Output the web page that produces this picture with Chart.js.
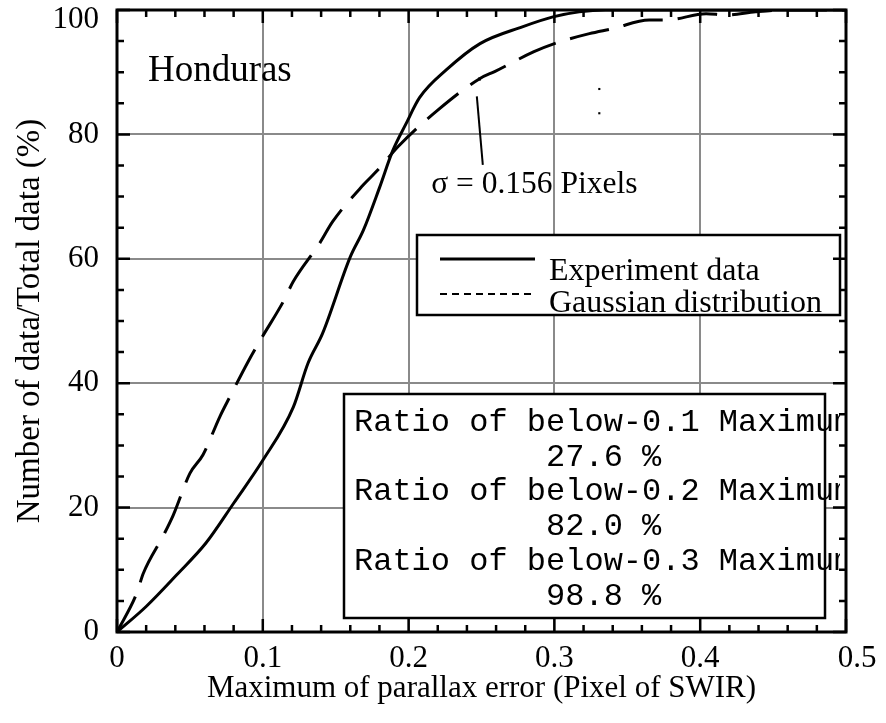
<!DOCTYPE html>
<html>
<head>
<meta charset="utf-8">
<script src="https://cdn.jsdelivr.net/npm/chart.js@4.4.0/dist/chart.umd.min.js"></script>
<style>
  html, body { margin: 0; padding: 0; background: #fff; }
  #wrap { width: 886px; height: 723px; }
</style>
</head>
<body>
<div id="wrap"><canvas id="chart" width="886" height="723"></canvas></div>
<script>
// Experiment data (solid line) - cumulative ratio vs max parallax error
const expX = [0, 0.020, 0.041, 0.061, 0.080, 0.100, 0.121, 0.131, 0.141, 0.160, 0.169, 0.180, 0.189, 0.198, 0.2075, 0.226, 0.249, 0.278, 0.299, 0.317, 0.335, 0.36, 0.40, 0.45, 0.5];
const expY = [0, 4.1, 9.2, 14.3, 20.7, 27.6, 36.2, 43.2, 48.0, 60.3, 64.6, 71.4, 77.3, 81.6, 85.9, 90.4, 94.6, 97.3, 98.9, 99.7, 100, 100, 100, 100, 100];

// Gaussian distribution (dashed line)
const gaussX = [0, 0.0135, 0.018, 0.032, 0.0386, 0.050, 0.059, 0.0705, 0.0774, 0.090, 0.099, 0.114, 0.1208, 0.139, 0.148, 0.169, 0.179, 0.193, 0.220, 0.249, 0.259, 0.286, 0.300, 0.324, 0.340, 0.365, 0.377, 0.404, 0.418, 0.438, 0.46, 0.5];
const gaussY = [0, 6.2, 9.4, 15.6, 18.8, 25.5, 28.5, 34.6, 37.8, 43.5, 47.2, 53.1, 56.3, 62.5, 66.0, 71.9, 74.3, 78.1, 83.9, 89.0, 90.1, 93.3, 94.6, 96.2, 97.0, 98.4, 98.4, 99.4, 99.2, 99.7, 100, 100];

// small stray marks in the plot
const strayX = [0.3308, 0.3308];
const strayY = [87.3, 83.4];

// axis ticks
const xTicks = [0, 0.1, 0.2, 0.3, 0.4, 0.5];
const xTickLabels = ['0', '0.1', '0.2', '0.3', '0.4', '0.5'];
const yTicks = [0, 20, 40, 60, 80, 100];
const yTickLabels = ['0', '20', '40', '60', '80', '100'];

// text in the plot
const sigmaLabel = 'σ = 0.156 Pixels';
const regionLabel = 'Honduras';
const seriesNames = ['Experiment data', 'Gaussian distribution'];
const statsLabels = ['Ratio of below-0.1 Maximum error', 'Ratio of below-0.2 Maximum error', 'Ratio of below-0.3 Maximum error'];
const statsValues = ['27.6 %', '82.0 %', '98.8 %'];

const SERIF = "'Liberation Serif', 'Times New Roman', serif";
const MONO = "'Liberation Mono', 'Courier New', monospace";

function toPoints(xs, ys) {
    return xs.map((x, i) => ({ x: x, y: ys[i] }));
}

/**
 * Draws tick labels, frame, inward ticks, legend box, stats box and annotations
 */
const framePlugin = {
    id: 'frame',
    afterDraw(chart) {
        const ctx = chart.ctx;
        const area = chart.chartArea;
        const xs = chart.scales.x;
        const ys = chart.scales.y;
        ctx.save();

        // tick labels (edge labels nudged inside canvas like the original)
        ctx.fillStyle = '#000';
        ctx.font = '31px ' + SERIF;
        ctx.textBaseline = 'middle';
        ctx.textAlign = 'right';
        yTicks.forEach((v, i) => {
            const py = Math.max(ys.getPixelForValue(v), area.top + 10);
            ctx.fillText(yTickLabels[i], area.left - 18, py);
        });
        ctx.textAlign = 'center';
        xTicks.forEach((v, i) => {
            let px = xs.getPixelForValue(v);
            if (i === xTicks.length - 1) px += 11;
            ctx.fillText(xTickLabels[i], px, area.bottom + 27);
        });

        // Honduras label
        ctx.font = '37px ' + SERIF;
        ctx.textBaseline = 'alphabetic';
        ctx.textAlign = 'left';
        ctx.fillText(regionLabel, xs.getPixelForValue(0.0212), ys.getPixelForValue(88.6));

        // sigma annotation
        ctx.font = '31.5px ' + SERIF;
        ctx.fillText(sigmaLabel, xs.getPixelForValue(0.2155), ys.getPixelForValue(70.5));
        ctx.strokeStyle = '#000';
        ctx.lineWidth = 2;
        ctx.beginPath();
        ctx.moveTo(xs.getPixelForValue(0.2468), ys.getPixelForValue(86.1));
        ctx.lineTo(xs.getPixelForValue(0.2509), ys.getPixelForValue(75.1));
        ctx.stroke();
        ctx.fillRect(xs.getPixelForValue(0.2486) - 1.5, ys.getPixelForValue(88.9) - 1.5, 3, 3);

        // legend box
        ctx.fillStyle = '#fff';
        ctx.fillRect(417, 235, 423, 80);
        ctx.lineWidth = 2.5;
        ctx.strokeRect(417, 235, 423, 80);
        ctx.lineWidth = 3;
        ctx.beginPath();
        ctx.moveTo(440, 259);
        ctx.lineTo(535, 259);
        ctx.stroke();
        ctx.lineWidth = 2;
        ctx.setLineDash([7, 5]);
        ctx.beginPath();
        ctx.moveTo(440, 294);
        ctx.lineTo(533, 294);
        ctx.stroke();
        ctx.setLineDash([]);
        ctx.fillStyle = '#000';
        ctx.font = '32px ' + SERIF;
        ctx.fillText(seriesNames[0], 549, 280);
        ctx.fillText(seriesNames[1], 549, 312);

        // stats box
        ctx.fillStyle = '#fff';
        ctx.fillRect(344, 394, 481, 224);
        ctx.lineWidth = 2.5;
        ctx.strokeRect(344, 394, 481, 224);
        ctx.save();
        ctx.beginPath();
        ctx.rect(344, 394, 496, 224);
        ctx.clip();
        ctx.fillStyle = '#000';
        ctx.font = '32px ' + MONO;
        ctx.textBaseline = 'middle';
        const centerW = ctx.measureText('Ratio of below-0.1 Maximum').width;
        const rowY = [423, 492, 562];
        for (let i = 0; i < statsLabels.length; i++) {
            ctx.textAlign = 'left';
            ctx.fillText(statsLabels[i], 354, rowY[i]);
            ctx.textAlign = 'center';
            ctx.fillText(statsValues[i], 354 + centerW / 2, rowY[i] + 35);
        }
        ctx.restore();

        // frame
        ctx.strokeStyle = '#000';
        ctx.lineWidth = 3;
        ctx.strokeRect(area.left, area.top, area.right - area.left, area.bottom - area.top);

        // inward ticks on all four sides
        ctx.lineWidth = 2.5;
        ctx.beginPath();
        for (let v = 0; v <= 0.5001; v += 0.02) {
            const px = xs.getPixelForValue(v);
            const major = Math.abs(v * 10 - Math.round(v * 10)) < 1e-6;
            const len = major ? 13 : 7;
            ctx.moveTo(px, area.bottom);
            ctx.lineTo(px, area.bottom - len);
            ctx.moveTo(px, area.top);
            ctx.lineTo(px, area.top + len);
        }
        for (let v = 0; v <= 100; v += 5) {
            const py = ys.getPixelForValue(v);
            const len = v % 20 === 0 ? 13 : 7;
            ctx.moveTo(area.left, py);
            ctx.lineTo(area.left + len, py);
            ctx.moveTo(area.right, py);
            ctx.lineTo(area.right - len, py);
        }
        ctx.stroke();
        ctx.restore();
    }
};

document.addEventListener('DOMContentLoaded', function() {
    const ctx = document.getElementById('chart');

    new Chart(ctx, {
        type: 'scatter',
        data: {
            datasets: [
                {
                    label: seriesNames[0],
                    data: toPoints(expX, expY),
                    showLine: true,
                    borderColor: '#000',
                    borderWidth: 3,
                    pointRadius: 0,
                    cubicInterpolationMode: 'monotone'
                },
                {
                    label: seriesNames[1],
                    data: toPoints(gaussX, gaussY),
                    showLine: true,
                    borderColor: '#000',
                    borderWidth: 3,
                    borderDash: [40, 15],
                    pointRadius: 0,
                    cubicInterpolationMode: 'monotone'
                },
                {
                    label: 'marks',
                    data: toPoints(strayX, strayY),
                    showLine: false,
                    pointStyle: 'rect',
                    pointRadius: 1.5,
                    backgroundColor: '#000',
                    borderColor: '#000',
                    borderWidth: 0
                }
            ]
        },
        options: {
            responsive: false,
            animation: false,
            layout: {
                padding: { left: 0, right: 40, top: 10, bottom: 0 }
            },
            scales: {
                x: {
                    type: 'linear',
                    min: 0,
                    max: 0.5,
                    afterBuildTicks: function(scale) {
                        scale.ticks = xTicks.map(v => ({ value: v }));
                    },
                    afterFit: function(scale) {
                        scale.height = 91;
                        scale.paddingLeft = 0;
                        scale.paddingRight = 0;
                    },
                    grid: {
                        color: '#8a8a8a',
                        lineWidth: 2,
                        drawTicks: false
                    },
                    border: { display: false },
                    ticks: {
                        display: false // drawn in plugin
                    },
                    title: {
                        display: true,
                        text: 'Maximum of parallax error (Pixel of SWIR)',
                        color: '#000',
                        font: { family: SERIF, size: 31, lineHeight: 1.2 },
                        padding: { top: 0, bottom: 16 }
                    }
                },
                y: {
                    type: 'linear',
                    min: 0,
                    max: 100,
                    afterBuildTicks: function(scale) {
                        scale.ticks = yTicks.map(v => ({ value: v }));
                    },
                    afterFit: function(scale) {
                        scale.width = 117;
                        scale.paddingTop = 0;
                        scale.paddingBottom = 0;
                    },
                    grid: {
                        color: '#8a8a8a',
                        lineWidth: 2,
                        drawTicks: false
                    },
                    border: { display: false },
                    ticks: {
                        display: false // drawn in plugin
                    },
                    title: {
                        display: true,
                        text: 'Number of data/Total data (%)',
                        color: '#000',
                        font: { family: SERIF, size: 33, lineHeight: 1.2 },
                        padding: { top: 11, bottom: 0 }
                    }
                }
            },
            plugins: {
                legend: {
                    display: false // custom legend drawn in plugin
                },
                tooltip: {
                    enabled: false
                }
            }
        },
        plugins: [framePlugin]
    });
});
</script>
</body>
</html>
